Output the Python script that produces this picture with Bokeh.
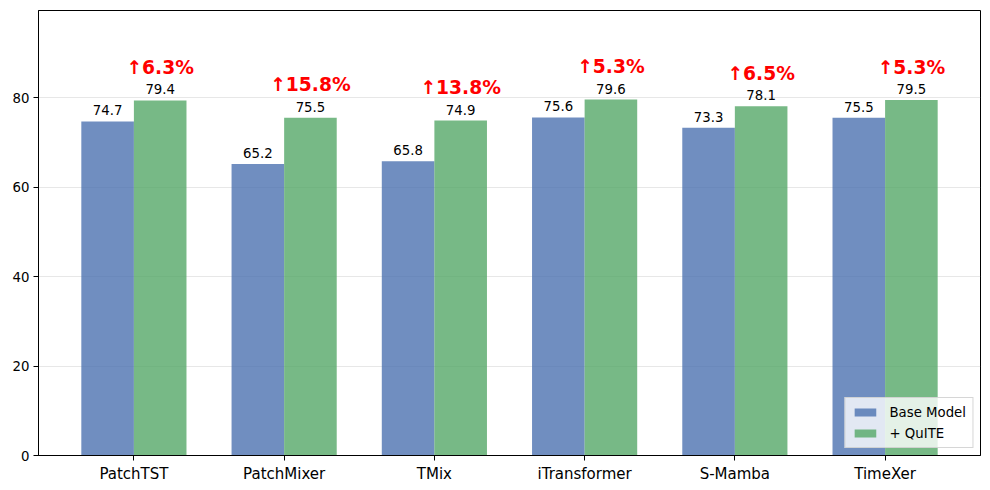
from bokeh.plotting import figure
from bokeh.models import ColumnDataSource, FixedTicker, Range1d, Legend, LegendItem
from bokeh.core.properties import value
from bokeh.embed import file_html
from bokeh.resources import INLINE

models = ["PatchTST", "PatchMixer", "TMix", "iTransformer", "S-Mamba", "TimeXer"]
base_vals = [74.7, 65.2, 65.8, 75.6, 73.3, 75.5]
quite_vals = [79.4, 75.5, 74.9, 79.6, 78.1, 79.5]
gain_labels = ["↑6.3%", "↑15.8%", "↑13.8%", "↑5.3%", "↑6.5%", "↑5.3%"]
y_ticks = [0, 20, 40, 60, 80]

FONT = "DejaVu Sans"
W = 0.35
xs = list(range(len(models)))
xb = [x - W / 2 for x in xs]
xq = [x + W / 2 for x in xs]

src_b = ColumnDataSource(dict(x=xb, top=base_vals, lab=[f"{v:.1f}" for v in base_vals]))
src_q = ColumnDataSource(dict(x=xq, top=quite_vals, lab=[f"{v:.1f}" for v in quite_vals]))
src_g = ColumnDataSource(dict(x=xq, y=[max(a, b) + 5 for a, b in zip(base_vals, quite_vals)], lab=gain_labels))

ymax = max(quite_vals + base_vals) * 1.25
p = figure(width=990, height=490, output_backend="svg", toolbar_location=None,
           x_range=Range1d(-0.635, len(models) - 1 + 0.635), y_range=Range1d(0, ymax),
           min_border_left=38, min_border_right=10, min_border_top=10, min_border_bottom=35)
p.background_fill_color = "white"
p.border_fill_color = "white"
p.outline_line_color = "black"
p.outline_line_width = 1

rb = p.vbar(x="x", top="top", width=W, source=src_b, fill_color="#4C72B0", fill_alpha=0.8, line_color=None)
rq = p.vbar(x="x", top="top", width=W, source=src_q, fill_color="#55A868", fill_alpha=0.8, line_color=None)

for s in (src_b, src_q):
    p.text(x="x", y="top", text="lab", source=s, text_align="center", text_baseline="bottom",
           y_offset=-6, text_font=value(FONT), text_font_size="13.3px", text_color="black")

p.text(x="x", y="y", text="lab", source=src_g, text_align="center", text_baseline="bottom",
       text_font=value(FONT), text_font_size="18.7px", text_font_style="bold", text_color="red")

p.xgrid.visible = False
p.ygrid.grid_line_color = "#b0b0b0"
p.ygrid.grid_line_alpha = 0.3
p.ygrid.ticker = FixedTicker(ticks=y_ticks)

p.xaxis.ticker = FixedTicker(ticks=xs)
p.xaxis.major_label_overrides = {i: m for i, m in enumerate(models)}
p.yaxis.ticker = FixedTicker(ticks=y_ticks)
for ax in (p.xaxis[0], p.yaxis[0]):
    ax.axis_line_color = "black"
    ax.major_tick_line_color = "black"
    ax.major_tick_out = 5
    ax.major_tick_in = 0
    ax.minor_tick_line_color = None
    ax.major_label_text_font = FONT
    ax.major_label_text_color = "black"
    ax.major_label_standoff = 4
p.xaxis.major_label_text_font_size = "15px"
p.yaxis.major_label_text_font_size = "13.3px"

legend = Legend(items=[LegendItem(label="Base Model", renderers=[rb]),
                       LegendItem(label="+ QuITE", renderers=[rq])],
                location="bottom_right")
legend.margin = 7
legend.padding = 6
legend.spacing = 5
legend.glyph_width = 27
legend.glyph_height = 10
legend.label_height = 16
legend.label_text_font = FONT
legend.label_text_font_size = "13.3px"
legend.label_text_color = "black"
legend.label_standoff = 11
legend.background_fill_alpha = 0.8
legend.border_line_color = "#cccccc"
legend.border_line_alpha = 0.8
p.add_layout(legend)

open("out.html", "w").write(file_html(p, INLINE))
